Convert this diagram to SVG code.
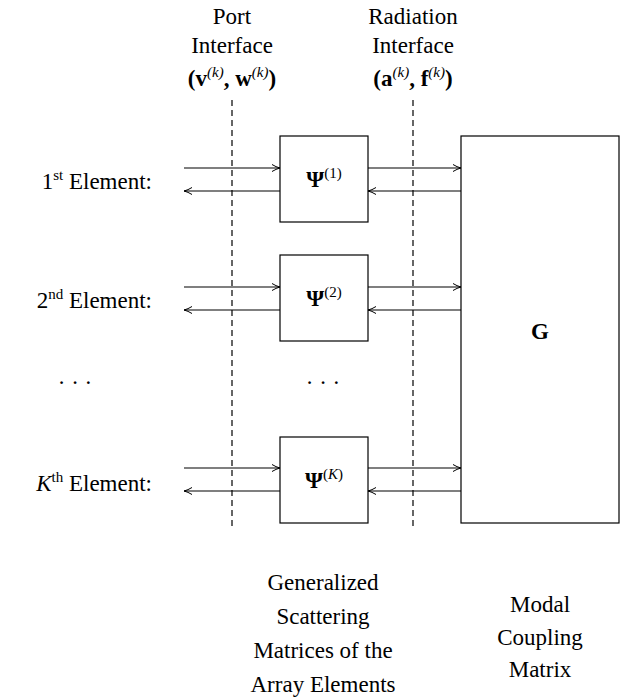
<svg xmlns="http://www.w3.org/2000/svg" width="620" height="698" viewBox="0 0 620 698" font-family="Liberation Serif, DejaVu Serif, serif">
<style>
text{font-family:'Liberation Serif','DejaVu Serif',serif;font-size:23px;fill:#000}
.m{text-anchor:middle}.r{text-anchor:end}
.b{font-weight:bold}
.i{font-style:italic}
.s{font-size:15px}
.box{fill:#fff;stroke:#000;stroke-width:1.2}
.ln{stroke:#000;stroke-width:1.2;fill:none}
.d{stroke:#000;stroke-width:1.2;stroke-dasharray:6,4}
</style>
<defs><marker id="a" markerWidth="10" markerHeight="8" refX="9" refY="4" orient="auto" markerUnits="userSpaceOnUse"><path d="M1,0.5 Q5,3 9,4 Q5,5 1,7.5" fill="none" stroke="#000" stroke-width="1"/></marker></defs>
<g id="labels">
<text class="m" x="232" y="24">Port</text><text class="m" x="232" y="53">Interface</text>
<text class="m" x="232" y="86"><tspan class="b">(v</tspan><tspan class="s i" dy="-9">(k)</tspan><tspan dy="9" class="b">, w</tspan><tspan class="s i" dy="-9">(k)</tspan><tspan dy="9" class="b">)</tspan></text>
<text class="m" x="413" y="24">Radiation</text><text class="m" x="413" y="53">Interface</text>
<text class="m" x="413" y="86"><tspan class="b">(a</tspan><tspan class="s i" dy="-9">(k)</tspan><tspan dy="9" class="b">, f</tspan><tspan class="s i" dy="-9">(k)</tspan><tspan dy="9" class="b">)</tspan></text>
<text class="r" x="152" y="189">1<tspan class="s" dy="-9">st</tspan><tspan dy="9"> Element:</tspan></text>
<text class="r" x="152" y="308">2<tspan class="s" dy="-9">nd</tspan><tspan dy="9"> Element:</tspan></text>
<text class="r" x="152" y="491"><tspan class="i">K</tspan><tspan class="s" dy="-9">th</tspan><tspan dy="9"> Element:</tspan></text>
<text class="m" x="75" y="390">· · ·</text><text class="m" x="323" y="390">· · ·</text>
<text class="m" x="323" y="590">Generalized</text><text class="m" x="323" y="624">Scattering</text>
<text class="m" x="323" y="658">Matrices of the</text><text class="m" x="323" y="692">Array Elements</text>
<text class="m" x="540" y="612">Modal</text><text class="m" x="540" y="645">Coupling</text><text class="m" x="540" y="677">Matrix</text>
</g>
<g id="dashes"><line class="d" x1="232" y1="100" x2="232" y2="528"/><line class="d" x1="413" y1="100" x2="413" y2="528"/></g>
<g id="psi1"><rect class="box" x="280" y="136" width="88" height="86"/><text class="m" x="324" y="187"><tspan class="b">Ψ</tspan><tspan class="s" dy="-9">(1)</tspan></text></g>
<g id="psi2"><rect class="box" x="280" y="255" width="88" height="86"/><text class="m" x="324" y="306"><tspan class="b">Ψ</tspan><tspan class="s" dy="-9">(2)</tspan></text></g>
<g id="psiK"><rect class="box" x="280" y="437" width="88" height="86"/><text class="m" x="324" y="488"><tspan class="b">Ψ</tspan><tspan class="s" dy="-9">(</tspan><tspan class="s i">K</tspan><tspan class="s">)</tspan></text></g>
<g id="G"><rect class="box" x="461" y="136" width="158" height="387"/><text class="m b" x="540" y="339">G</text></g>
<g id="connectors">
<line class="ln" x1="184" y1="168" x2="280" y2="168" marker-end="url(#a)"/><line class="ln" x1="280" y1="191" x2="184" y2="191" marker-end="url(#a)"/>
<line class="ln" x1="368" y1="168" x2="461" y2="168" marker-end="url(#a)"/><line class="ln" x1="461" y1="191" x2="368" y2="191" marker-end="url(#a)"/>
<line class="ln" x1="184" y1="287" x2="280" y2="287" marker-end="url(#a)"/><line class="ln" x1="280" y1="310" x2="184" y2="310" marker-end="url(#a)"/>
<line class="ln" x1="368" y1="287" x2="461" y2="287" marker-end="url(#a)"/><line class="ln" x1="461" y1="310" x2="368" y2="310" marker-end="url(#a)"/>
<line class="ln" x1="184" y1="468" x2="280" y2="468" marker-end="url(#a)"/><line class="ln" x1="280" y1="491" x2="184" y2="491" marker-end="url(#a)"/>
<line class="ln" x1="368" y1="468" x2="461" y2="468" marker-end="url(#a)"/><line class="ln" x1="461" y1="491" x2="368" y2="491" marker-end="url(#a)"/>
</g>
</svg>
